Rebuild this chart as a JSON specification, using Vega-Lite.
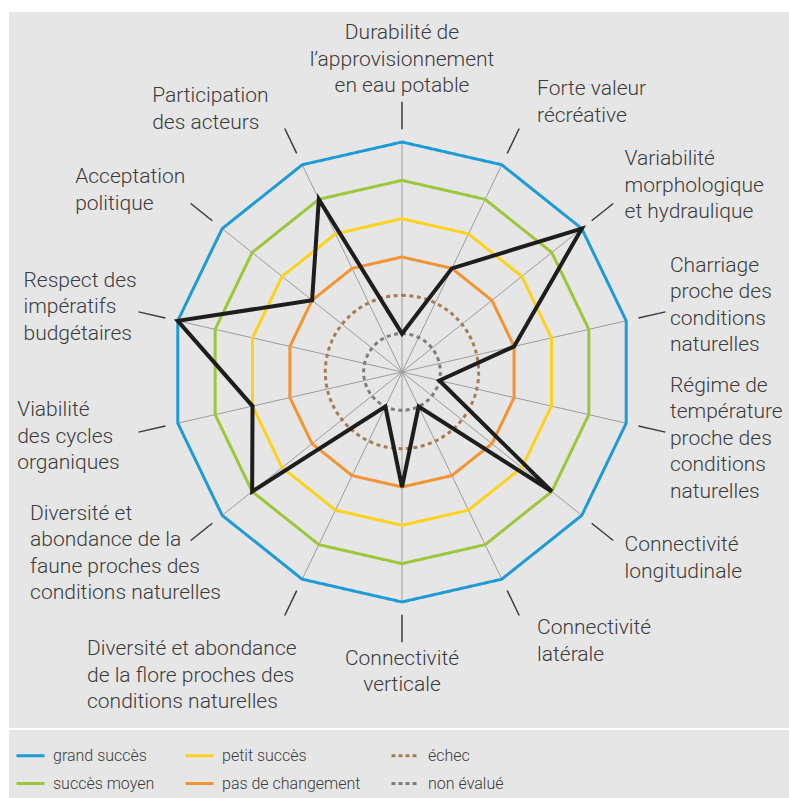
{
  "$schema": "https://vega.github.io/schema/vega-lite/v6.json",
  "width": 780,
  "height": 786,
  "autosize": "none",
  "padding": {"left": 9, "top": 12, "right": 0, "bottom": 0},
  "background": "white",
  "config": {"view": {"fill": "#e6e6e6", "stroke": null}, "font": "Roboto"},
  "datasets": {
    "criteres": [
      {"idx": 0, "critere": "Durabilité de\nl’approvisionnement\nen eau potable", "valeur": 1},
      {"idx": 1, "critere": "Forte valeur\nrécréative", "valeur": 3},
      {"idx": 2, "critere": "Variabilité\nmorphologique\net hydraulique", "valeur": 6},
      {"idx": 3, "critere": "Charriage\nproche des\nconditions\nnaturelles", "valeur": 3},
      {"idx": 4, "critere": "Régime de\ntempérature\nproche des\nconditions\nnaturelles", "valeur": 1},
      {"idx": 5, "critere": "Connectivité\nlongitudinale", "valeur": 5},
      {"idx": 6, "critere": "Connectivité\nlatérale", "valeur": 1},
      {"idx": 7, "critere": "Connectivité\nverticale", "valeur": 3},
      {"idx": 8, "critere": "Diversité et abondance\nde la flore proches des\nconditions naturelles", "valeur": 1},
      {"idx": 9, "critere": "Diversité et\nabondance de la\nfaune proches des\nconditions naturelles", "valeur": 5},
      {"idx": 10, "critere": "Viabilité\ndes cycles\norganiques", "valeur": 4},
      {"idx": 11, "critere": "Respect des\nimpératifs\nbudgétaires", "valeur": 6},
      {"idx": 12, "critere": "Acceptation\npolitique", "valeur": 3},
      {"idx": 13, "critere": "Participation\ndes acteurs", "valeur": 5}
    ],
    "niveaux": [
      {"niveau": "grand succès", "valeur": 6, "idx": [0,1,2,3,4,5,6,7,8,9,10,11,12,13]},
      {"niveau": "succès moyen", "valeur": 5, "idx": [0,1,2,3,4,5,6,7,8,9,10,11,12,13]},
      {"niveau": "petit succès", "valeur": 4, "idx": [0,1,2,3,4,5,6,7,8,9,10,11,12,13]},
      {"niveau": "pas de changement", "valeur": 3, "idx": [0,1,2,3,4,5,6,7,8,9,10,11,12,13]},
      {"niveau": "échec", "valeur": 2},
      {"niveau": "non évalué", "valeur": 1}
    ]
  },
  "layer": [
    {
      "data": {"name": "criteres"},
      "transform": [
        {"calculate": "0", "as": "cx"},
        {"calculate": "6*sin(datum.idx*2*PI/14)", "as": "sx"},
        {"calculate": "6*cos(datum.idx*2*PI/14)", "as": "sy"}
      ],
      "mark": {"type": "rule", "color": "#9d9d9d", "strokeWidth": 1},
      "encoding": {
        "x": {"field": "cx", "type": "quantitative", "scale": {"domain": [-10.253, 10.097], "nice": false, "zero": false}, "axis": null},
        "y": {"field": "cx", "type": "quantitative", "scale": {"domain": [-11.114, 9.392], "nice": false, "zero": false}, "axis": null},
        "x2": {"field": "sx"},
        "y2": {"field": "sy"}
      }
    },
    {
      "data": {"name": "niveaux"},
      "transform": [
        {"filter": "datum.valeur >= 3"},
        {"flatten": ["idx"]},
        {"calculate": "datum.valeur*sin(datum.idx*2*PI/14)", "as": "px"},
        {"calculate": "datum.valeur*cos(datum.idx*2*PI/14)", "as": "py"}
      ],
      "mark": {"type": "line", "interpolate": "linear-closed", "strokeWidth": 3},
      "encoding": {
        "x": {"field": "px", "type": "quantitative", "scale": {"domain": [-10.253, 10.097], "nice": false, "zero": false}, "axis": null},
        "y": {"field": "py", "type": "quantitative", "scale": {"domain": [-11.114, 9.392], "nice": false, "zero": false}, "axis": null},
        "order": {"field": "idx", "type": "quantitative"},
        "color": {
          "field": "niveau", "type": "nominal",
          "scale": {
            "domain": ["grand succès", "succès moyen", "petit succès", "pas de changement", "échec", "non évalué"],
            "range": ["#1e9bd7", "#9dc73a", "#fdd21c", "#f39433", "#a67c52", "#7d7d7d"]
          },
          "legend": {
            "title": null, "orient": "bottom-left", "offset": 6, "padding": 0,
            "columns": 3, "columnPadding": 24, "rowPadding": 4, "gridAlign": "each",
            "symbolType": "stroke", "symbolSize": 784, "symbolStrokeWidth": 3,
            "labelFontSize": 16, "labelFont": "Roboto", "labelFontWeight": 300,
            "labelColor": "#3b3b3b", "labelOffset": 7, "labelLimit": 300
          }
        },
        "strokeDash": {
          "field": "niveau", "type": "nominal",
          "scale": {
            "domain": ["grand succès", "succès moyen", "petit succès", "pas de changement", "échec", "non évalué"],
            "range": [[1, 0], [1, 0], [1, 0], [1, 0], [4, 3], [4, 3]]
          }
        }
      }
    },
    {
      "data": {"name": "niveaux"},
      "transform": [{"filter": "datum.valeur <= 2"}, {"calculate": "0", "as": "cx"}],
      "mark": {"type": "arc", "filled": false, "strokeWidth": 3, "strokeDash": [4, 3.5], "theta": 0, "theta2": 6.2832},
      "encoding": {
        "x": {"field": "cx", "type": "quantitative", "scale": {"domain": [-10.253, 10.097], "nice": false, "zero": false}, "axis": null},
        "y": {"field": "cx", "type": "quantitative", "scale": {"domain": [-11.114, 9.392], "nice": false, "zero": false}, "axis": null},
        "radius": {"field": "valeur", "type": "quantitative", "stack": null, "scale": {"type": "linear", "domain": [0, 6], "range": [0, 230], "zero": true}},
        "color": {
          "field": "niveau", "type": "nominal",
          "scale": {
            "domain": ["grand succès", "succès moyen", "petit succès", "pas de changement", "échec", "non évalué"],
            "range": ["#1e9bd7", "#9dc73a", "#fdd21c", "#f39433", "#a67c52", "#7d7d7d"]
          }
        }
      }
    },
    {
      "data": {"name": "criteres"},
      "transform": [
        {"calculate": "6.33*sin(datum.idx*2*PI/14)", "as": "tx"},
        {"calculate": "6.33*cos(datum.idx*2*PI/14)", "as": "ty"},
        {"calculate": "7.05*sin(datum.idx*2*PI/14)", "as": "tx2"},
        {"calculate": "7.05*cos(datum.idx*2*PI/14)", "as": "ty2"}
      ],
      "mark": {"type": "rule", "color": "#3a3a3a", "strokeWidth": 1.5},
      "encoding": {
        "x": {"field": "tx", "type": "quantitative", "scale": {"domain": [-10.253, 10.097], "nice": false, "zero": false}, "axis": null},
        "y": {"field": "ty", "type": "quantitative", "scale": {"domain": [-11.114, 9.392], "nice": false, "zero": false}, "axis": null},
        "x2": {"field": "tx2"},
        "y2": {"field": "ty2"}
      }
    },
    {
      "data": {"name": "criteres"},
      "transform": [
        {"calculate": "datum.valeur*sin(datum.idx*2*PI/14)", "as": "vx"},
        {"calculate": "datum.valeur*cos(datum.idx*2*PI/14)", "as": "vy"}
      ],
      "mark": {"type": "line", "interpolate": "linear-closed", "color": "#1d1d1b", "strokeWidth": 4, "strokeJoin": "miter"},
      "encoding": {
        "x": {"field": "vx", "type": "quantitative", "scale": {"domain": [-10.253, 10.097], "nice": false, "zero": false}, "axis": null},
        "y": {"field": "vy", "type": "quantitative", "scale": {"domain": [-11.114, 9.392], "nice": false, "zero": false}, "axis": null},
        "order": {"field": "idx", "type": "quantitative"}
      }
    },
    {
      "data": {"name": "criteres"},
      "transform": [
        {"calculate": "sin(datum.idx*2*PI/14)", "as": "s"},
        {"calculate": "cos(datum.idx*2*PI/14)", "as": "c"},
        {"calculate": "length(split(datum.critere, '\\n'))", "as": "n"},
        {"filter": "abs(datum.s) > 0.1"},
        {"calculate": "datum.s > 0 ? 6.49*datum.s + 0.61 + 0.25*abs(datum.c)*datum.s : max(-10.04, 5.02*datum.s + 0.943*datum.c - 5.19)", "as": "lx"},
        {"calculate": "(datum.s > 0 ? 7.8*datum.c : (datum.c < -0.8 ? 8.8*datum.c : 7.6*datum.c)) + (datum.n - 1) * 0.3457", "as": "ly"}
      ],
      "mark": {"type": "text", "align": "left", "baseline": "middle", "fontSize": 21, "fontWeight": 300, "lineHeight": 26.5, "lineBreak": "\n", "color": "#3b3b3b"},
      "encoding": {
        "x": {"field": "lx", "type": "quantitative", "scale": {"domain": [-10.253, 10.097], "nice": false, "zero": false}, "axis": null},
        "y": {"field": "ly", "type": "quantitative", "scale": {"domain": [-11.114, 9.392], "nice": false, "zero": false}, "axis": null},
        "text": {"field": "critere"}
      }
    },
    {
      "data": {"name": "criteres"},
      "transform": [
        {"calculate": "sin(datum.idx*2*PI/14)", "as": "s"},
        {"calculate": "cos(datum.idx*2*PI/14)", "as": "c"},
        {"calculate": "length(split(datum.critere, '\\n'))", "as": "n"},
        {"filter": "abs(datum.s) <= 0.1"},
        {"calculate": "0", "as": "lx"},
        {"calculate": "datum.c > 0 ? 7.2 + (datum.n - 1) * 0.6914 : -7.2", "as": "ly"}
      ],
      "mark": {"type": "text", "align": "center", "baseline": {"expr": "datum.c > 0 ? 'bottom' : 'top'"}, "fontSize": 21, "fontWeight": 300, "lineHeight": 26.5, "lineBreak": "\n", "color": "#3b3b3b"},
      "encoding": {
        "x": {"field": "lx", "type": "quantitative", "scale": {"domain": [-10.253, 10.097], "nice": false, "zero": false}, "axis": null},
        "y": {"field": "ly", "type": "quantitative", "scale": {"domain": [-11.114, 9.392], "nice": false, "zero": false}, "axis": null},
        "text": {"field": "critere"}
      }
    },
    {
      "data": {"values": [{"sep": -9.314}]},
      "mark": {"type": "rule", "color": "white", "strokeWidth": 2},
      "encoding": {
        "y": {"field": "sep", "type": "quantitative", "scale": {"domain": [-11.114, 9.392], "nice": false, "zero": false}, "axis": null}
      }
    }
  ]
}
